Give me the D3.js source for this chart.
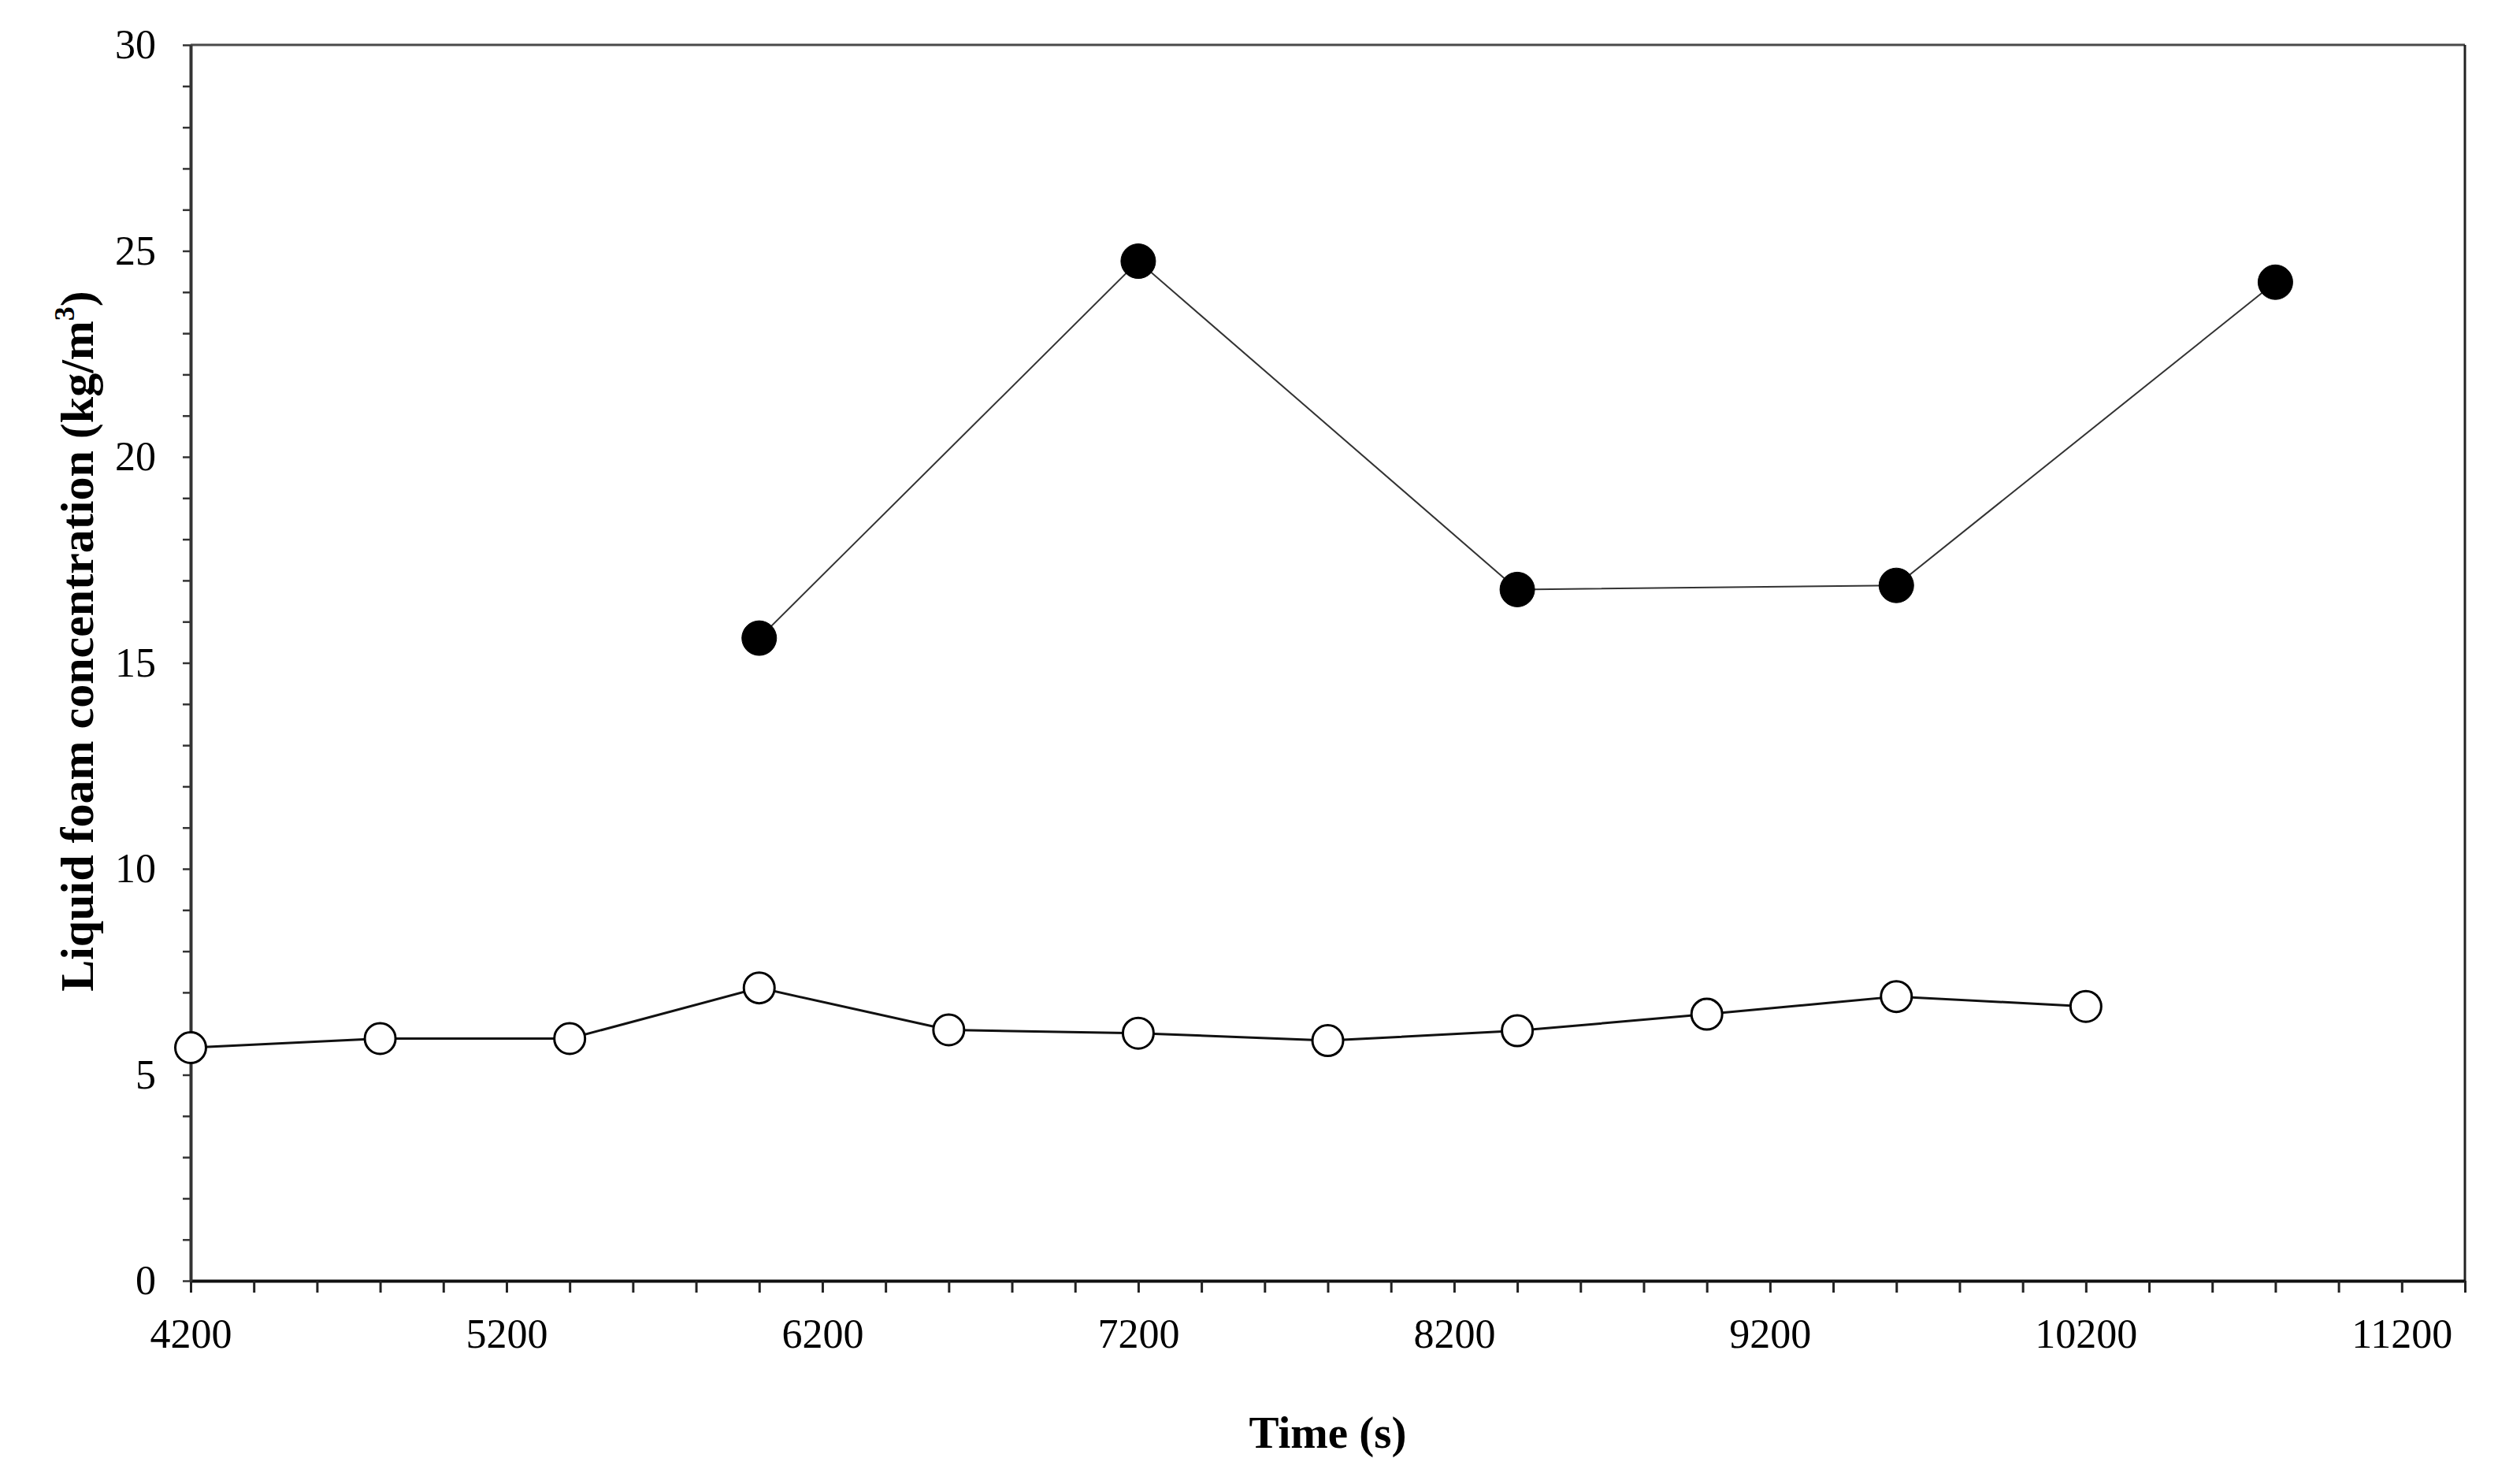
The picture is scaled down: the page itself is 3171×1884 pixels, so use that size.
<!DOCTYPE html>
<html>
<head>
<meta charset="utf-8">
<script src="https://cdn.jsdelivr.net/npm/d3@7"></script>
<style>
  html, body { margin: 0; padding: 0; background: #fff; }
  svg { display: block; }
  text { font-family: "Liberation Serif", "Times New Roman", serif; fill: #000; }
</style>
</head>
<body>
<script>
// ---- data ----
const openTimes   = [4200, 4800, 5400, 6000, 6600, 7200, 7800, 8400, 9000, 9600, 10200];
const openValues  = [5.66, 5.88, 5.88, 7.11, 6.09, 6.01, 5.83, 6.07, 6.47, 6.90, 6.66];
const filledTimes  = [6000, 7200, 8400, 9600, 10800];
const filledValues = [15.60, 24.75, 16.78, 16.88, 24.24];
const xTickLabels = [4200, 5200, 6200, 7200, 8200, 9200, 10200, 11200];
const yTickLabels = [0, 5, 10, 15, 20, 25, 30];
const xDomain = [4200, 11400];
const yDomain = [0, 30];

(function () {
const W = 3171, H = 1884;
const pLeft = 242, pRight = 3129, pTop = 57, pBottom = 1626;

const svg = d3.select("body").append("svg")
  .attr("width", W).attr("height", H);
svg.append("rect").attr("width", W).attr("height", H).attr("fill", "#fff");

const x = d3.scaleLinear().domain(xDomain).range([pLeft, pRight]);
const y = d3.scaleLinear().domain(yDomain).range([pBottom, pTop]);

// frame top / right
svg.append("line").attr("x1", pLeft).attr("x2", pRight).attr("y1", pTop).attr("y2", pTop)
  .attr("stroke", "#4a4a4a").attr("stroke-width", 3);
svg.append("line").attr("x1", pRight).attr("x2", pRight).attr("y1", pTop).attr("y2", pBottom)
  .attr("stroke", "#222").attr("stroke-width", 3);

// minor ticks
const xMinor = d3.range(xDomain[0], xDomain[1] + 1, 200);
const yMinor = d3.range(yDomain[0], yDomain[1] + 0.001, 1);

const gx = svg.append("g").attr("transform", `translate(0,${pBottom})`)
  .call(d3.axisBottom(x).tickValues(xMinor).tickFormat("").tickSize(15).tickSizeOuter(0));
gx.select(".domain").attr("stroke", "#111").attr("stroke-width", 4);
gx.selectAll(".tick line").attr("stroke", "#222").attr("stroke-width", 3);

const gxl = svg.append("g").attr("transform", `translate(0,${pBottom})`)
  .call(d3.axisBottom(x).tickValues(xTickLabels).tickFormat(d3.format("d")).tickSize(0).tickPadding(48));
gxl.select(".domain").remove();
gxl.selectAll("text").attr("font-size", 52).attr("font-family", "Liberation Serif").attr("fill", "#000");

const gy = svg.append("g").attr("transform", `translate(${pLeft},0)`)
  .call(d3.axisLeft(y).tickValues(yMinor).tickFormat("").tickSize(10).tickSizeOuter(0));
gy.select(".domain").attr("stroke", "#333").attr("stroke-width", 4);
gy.selectAll(".tick line").attr("stroke", "#333").attr("stroke-width", 2.5);

const gyl = svg.append("g").attr("transform", `translate(${pLeft},0)`)
  .call(d3.axisLeft(y).tickValues(yTickLabels).tickFormat(d3.format("d")).tickSize(0).tickPadding(44));
gyl.select(".domain").remove();
gyl.selectAll("text").attr("font-size", 52).attr("font-family", "Liberation Serif").attr("fill", "#000");

// series lines
const openData = openTimes.map((t, i) => [t, openValues[i]]);
const filledData = filledTimes.map((t, i) => [t, filledValues[i]]);
const line = d3.line().x(d => x(d[0])).y(d => y(d[1]));

svg.append("path").datum(filledData).attr("d", line)
  .attr("fill", "none").attr("stroke", "#333").attr("stroke-width", 2);
svg.append("path").datum(openData).attr("d", line)
  .attr("fill", "none").attr("stroke", "#111").attr("stroke-width", 3);

svg.selectAll("circle.filled").data(filledData).enter().append("circle")
  .attr("class", "filled")
  .attr("cx", d => x(d[0])).attr("cy", d => y(d[1])).attr("r", 22)
  .attr("fill", "#000").attr("stroke", "#000").attr("stroke-width", 1);

svg.selectAll("circle.open").data(openData).enter().append("circle")
  .attr("class", "open")
  .attr("cx", d => x(d[0])).attr("cy", d => y(d[1])).attr("r", 19.5)
  .attr("fill", "#fff").attr("stroke", "#000").attr("stroke-width", 3);

// axis titles
svg.append("text")
  .attr("x", (pLeft + pRight) / 2).attr("y", 1838)
  .attr("text-anchor", "middle")
  .attr("font-size", 57).attr("font-weight", "bold")
  .text("Time (s)");

const yt = svg.append("text")
  .attr("transform", `translate(118,${(360 + 1268) / 2}) rotate(-90)`)
  .attr("text-anchor", "middle")
  .attr("font-size", 60).attr("font-weight", "bold");
yt.append("tspan").text("Liquid foam concentration (kg/m");
yt.append("tspan").attr("font-size", 36).attr("dy", -24).text("3");
yt.append("tspan").attr("dy", 24).text(")");
})();
</script>
</body>
</html>
